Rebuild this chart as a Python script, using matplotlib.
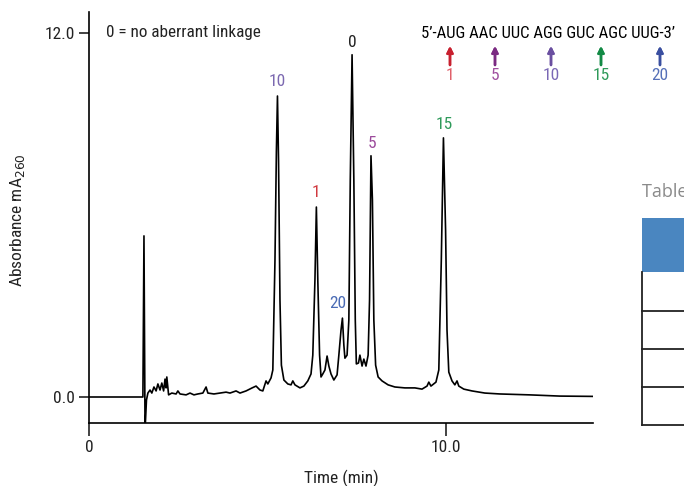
import matplotlib
matplotlib.use('Agg')
import matplotlib.pyplot as plt
from matplotlib.patches import Rectangle
from matplotlib.lines import Line2D

plt.rcParams['font.family'] = ['Roboto Condensed', 'DejaVu Sans']

# chromatogram trace (time in min, absorbance mA260)
time_min = [0.0, 1.51, 1.54, 1.57, 1.61, 1.65, 1.71, 1.76, 1.82, 1.88, 1.93, 1.99,
            2.04, 2.09, 2.13, 2.16, 2.18, 2.23, 2.32, 2.44, 2.49, 2.55, 2.72, 2.83,
            2.94, 3.05, 3.19, 3.28, 3.33, 3.50, 3.67, 3.84, 3.95, 4.12, 4.23, 4.40,
            4.57, 4.68, 4.79, 4.87, 4.96, 5.01, 5.10, 5.15,
            5.21, 5.25, 5.28, 5.31, 5.35, 5.39, 5.46, 5.57, 5.66, 5.71, 5.77, 5.91,
            6.02, 6.13, 6.22, 6.27,
            6.33, 6.37, 6.41, 6.46, 6.50, 6.55, 6.61, 6.67, 6.72, 6.78, 6.86, 6.95, 7.00,
            7.06, 7.10, 7.14, 7.17, 7.23, 7.28,
            7.32, 7.37, 7.42, 7.46, 7.49, 7.55, 7.59, 7.65, 7.70, 7.76, 7.82, 7.86,
            7.90, 7.94, 7.98, 8.03, 8.10, 8.21, 8.38, 8.57, 8.85, 9.13, 9.33, 9.47,
            9.52, 9.58, 9.72, 9.80,
            9.87, 9.93, 9.99, 10.03, 10.08, 10.17, 10.25, 10.31, 10.36, 10.50, 10.73,
            11.09, 11.51, 12.35, 13.19, 14.12]
absorbance = [0.0, 0.0, 5.31, -1.1, -0.1, 0.13, 0.23, 0.13, 0.33, 0.20, 0.43, 0.23,
              0.46, 0.20, 0.59, 0.30, 0.66, 0.07, 0.13, 0.10, 0.20, 0.10, 0.07, 0.13,
              0.07, 0.10, 0.13, 0.33, 0.13, 0.10, 0.13, 0.16, 0.13, 0.20, 0.13, 0.20,
              0.30, 0.36, 0.23, 0.20, 0.53, 0.43, 0.63, 0.89,
              4.5, 8.1, 9.92, 7.8, 3.2, 1.05, 0.56, 0.43, 0.40, 0.53, 0.40, 0.30,
              0.36, 0.53, 0.76, 1.38,
              3.86, 6.26, 3.86, 1.38, 0.66, 0.76, 0.89, 1.35, 1.02, 0.76, 0.56, 0.73, 1.38,
              2.2, 2.6, 1.71, 1.28, 1.38, 2.54,
              7.15, 11.28, 7.15, 2.54, 1.09, 1.12, 1.38, 1.02, 1.25, 1.02, 1.38, 3.2,
              7.95, 6.5, 2.54, 1.05, 0.66, 0.53, 0.40, 0.33, 0.30, 0.30, 0.26, 0.36,
              0.49, 0.36, 0.49, 0.89,
              4.5, 8.54, 5.5, 2.2, 0.82, 0.53, 0.40, 0.53, 0.36, 0.26, 0.20,
              0.13, 0.10, 0.07, 0.03, 0.02]

# peak labels: text, time, label height, colour
peak_labels = ['10', '1', '20', '0', '5', '15']
peak_x = [5.27, 6.36, 6.97, 7.37, 7.93, 9.94]
peak_y = [10.4, 6.73, 3.07, 11.67, 8.37, 8.97]
peak_colors = ['#7b68b0', '#d0393f', '#4a6bb5', '#222222', '#9b4a9b', '#2e9a5a']

# sequence positions marked with arrows
seq_text = '5\u2019-AUG AAC UUC AGG GUC AGC UUG-3\u2019'
site_labels = ['1', '5', '10', '15', '20']
site_px = [450, 495, 551, 601, 660]
arrow_colors = ['#c8202f', '#7b2a82', '#6a4fa0', '#138a45', '#3a4fa0']
site_colors = ['#e0606a', '#a050a0', '#7a68b5', '#2f9a5a', '#5570b8']

W, H = 684, 486
FS = 12.3
fig = plt.figure(figsize=(W / 100, H / 100), dpi=100)
ax = fig.add_axes([89 / W, 1 - 423 / H, (593 - 89) / W, (423 - 12) / H])

ax.plot(time_min, absorbance, color='black', lw=1.2)
ax.set_xlim(0, 14.12)
ax.set_ylim(-0.857, 12.69)

for s in ['top', 'right']:
    ax.spines[s].set_visible(False)
for s in ['left', 'bottom']:
    ax.spines[s].set_linewidth(1.2)
ax.set_xticks([0, 10])
ax.set_xticklabels(['0', '10.0'])
ax.set_yticks([0, 12])
ax.set_yticklabels(['0.0', '12.0'])
ax.tick_params(axis='x', length=9, width=1.2, labelsize=12.5, pad=3, colors='#222222')
ax.tick_params(axis='y', length=7, width=1.2, labelsize=12.5, pad=3, colors='#222222')
ax.set_xlabel('Time (min)', fontsize=12.5, color='#222222', va='center')
ax.xaxis.set_label_coords(0.5, (423 - 478) / 411)
ax.set_ylabel('Absorbance mA$_{260}$', fontsize=12.5, color='#222222', va='center')
ax.yaxis.set_label_coords((18 - 89) / 504, (423 - 220) / 411)

for lab, x, y, c in zip(peak_labels, peak_x, peak_y, peak_colors):
    ax.text(x, y, lab, color=c, fontsize=12.5, ha='center', va='center')

ax.text(0.48, 12.0, '0 = no aberrant linkage', fontsize=FS, color='#222222',
        ha='left', va='center')

# sequence header with arrows
fig.text(421 / W, 1 - 33 / H, seq_text, fontsize=12.0, color='black', ha='left', va='center')
for lab, px, ac, tc in zip(site_labels, site_px, arrow_colors, site_colors):
    fig.add_artist(plt.annotate('', xy=(px / W, 1 - 46 / H), xytext=(px / W, 1 - 65 / H),
                                xycoords='figure fraction', textcoords='figure fraction',
                                arrowprops=dict(arrowstyle='-|>', color=ac, lw=1.8,
                                                mutation_scale=9, shrinkA=0, shrinkB=0)))
    fig.text(px / W, 1 - 76 / H, lab, fontsize=12.5, color=tc, ha='center', va='center')

# partial table at the right edge
fig.text(642 / W, 1 - 192 / H, 'Table 1', family='Open Sans', fontsize=13,
         color='#8a8a8a', ha='left', va='center')
fig.patches.append(Rectangle((642 / W, 1 - 272 / H), 60 / W, 54 / H,
                             transform=fig.transFigure, color='#4a86c0', lw=0))
fig.add_artist(Line2D([642 / W, 642 / W], [1 - 272 / H, 1 - 425 / H],
                      transform=fig.transFigure, color='#222222', lw=1.3))
for py in [311, 349, 387, 425]:
    fig.add_artist(Line2D([642 / W, 1], [1 - py / H, 1 - py / H],
                          transform=fig.transFigure, color='#222222', lw=1.3))

fig.savefig('out.png', dpi=100)
